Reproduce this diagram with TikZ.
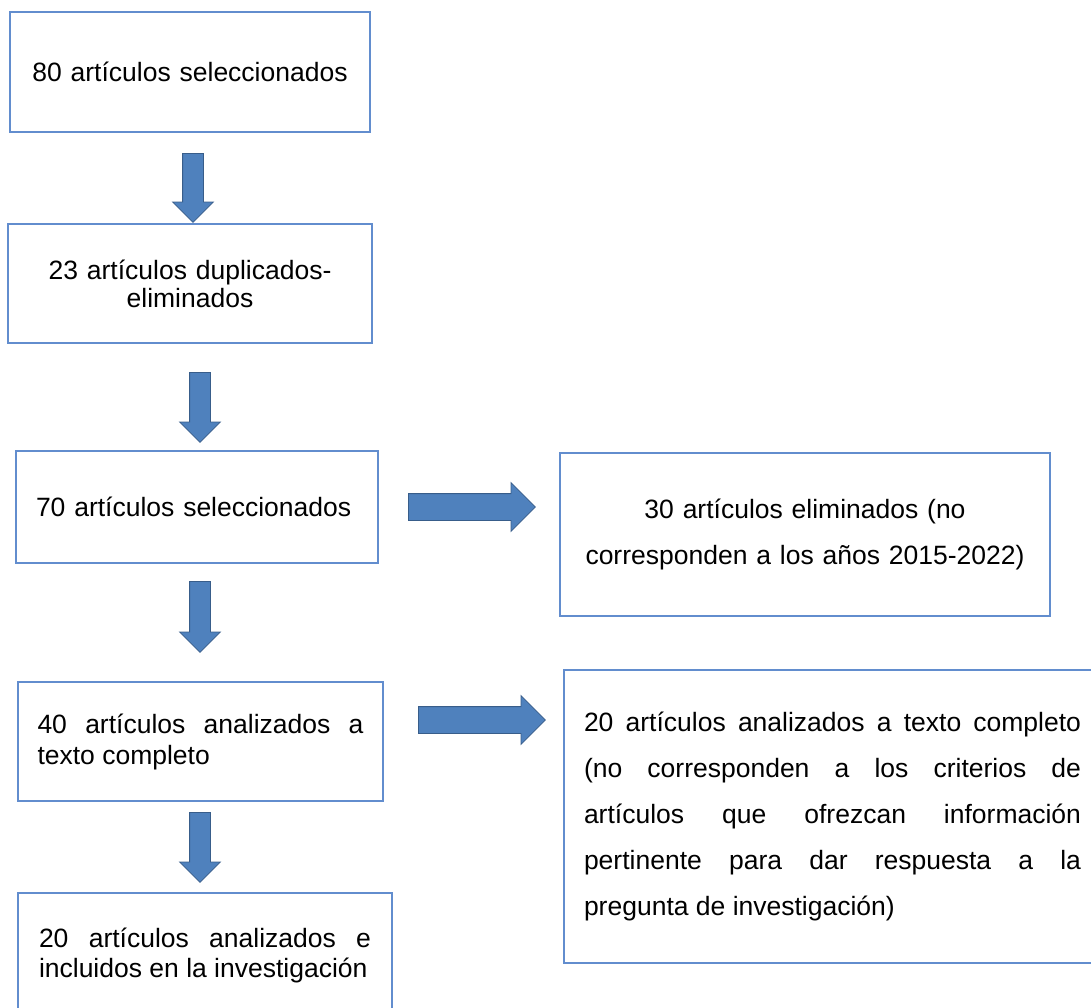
\documentclass[tikz,border=0pt]{standalone}
\usepackage{fontspec}
\setmainfont{Liberation Sans}
\usetikzlibrary{shapes.arrows}
\definecolor{borde}{RGB}{98,141,206}
\definecolor{flecha}{RGB}{79,129,189}
\definecolor{flechaborde}{RGB}{56,93,138}
\tolerance=9999
\begin{document}
\begin{tikzpicture}[x=1pt,y=-1pt,
	caja/.style={draw=borde,line width=1.3pt,inner sep=0pt,font=\fontsize{26.5}{28}\selectfont},
	bajar/.style={single arrow,draw=flechaborde,fill=flecha,line width=0.8pt,inner xsep=0pt,inner ysep=10pt,anchor=tail,
		minimum width=40pt,single arrow head extend=10pt,single arrow head indent=0pt,minimum height=70pt,rotate=-90},
	derecha/.style={single arrow,draw=flechaborde,fill=flecha,line width=0.8pt,inner xsep=0pt,inner ysep=13pt,anchor=tail,
		minimum width=48pt,single arrow head extend=11pt,single arrow head indent=0pt,minimum height=127pt}]
	\path[use as bounding box,clip] (0,0) rectangle (1091,1007);
	% cajas
	\node[caja,minimum width=360pt,minimum height=120pt,text width=322pt,align=center] (sel80) at (190,72) {80 artículos seleccionados};
	\node[caja,minimum width=364pt,minimum height=119pt,text width=322pt,align=center] (dup23) at (190,283.5) {23 artículos duplicados-\\eliminados};
	\node[caja,minimum width=362pt,minimum height=112pt,text width=322pt,align=left] (sel70) at (197,507) {70 artículos seleccionados};
	\node[caja,minimum width=490pt,minimum height=163pt,text width=450pt,align=center,font=\fontsize{26.5}{46}\selectfont] (elim30) at (805,534.5) {30 artículos eliminados (no\\corresponden a los años 2015-2022)};
	\node[caja,minimum width=365pt,minimum height=119pt,text width=326pt,align=justify,font=\fontsize{26.5}{31}\selectfont] (ana40) at (200.5,741.5) {40 artículos analizados a\linebreak texto completo};
	\node[caja,minimum width=537pt,minimum height=293pt,text width=497pt,align=justify,font=\fontsize{26.5}{46}\selectfont] (ana20) at (832.5,816.5) {20 artículos analizados a texto completo\linebreak (no corresponden a los criterios de\linebreak artículos que ofrezcan información\linebreak pertinente para dar respuesta a la\linebreak pregunta de investigación)};
	\node[caja,minimum width=374pt,minimum height=124pt,text width=332pt,align=justify,font=\fontsize{26.5}{30}\selectfont] (inc20) at (205,955) {20 artículos analizados e\linebreak incluidos en la investigación};
	% flechas
	\node[bajar,minimum height=69pt] (f1) at (193,153) {};
	\node[bajar] (f2) at (200,372) {};
	\node[bajar,minimum height=71pt] (f3) at (200,581) {};
	\node[bajar] (f4) at (200,812) {};
	\node[derecha] (g1) at (408,507) {};
	\node[derecha] (g2) at (418,720) {};
\end{tikzpicture}
\end{document}
